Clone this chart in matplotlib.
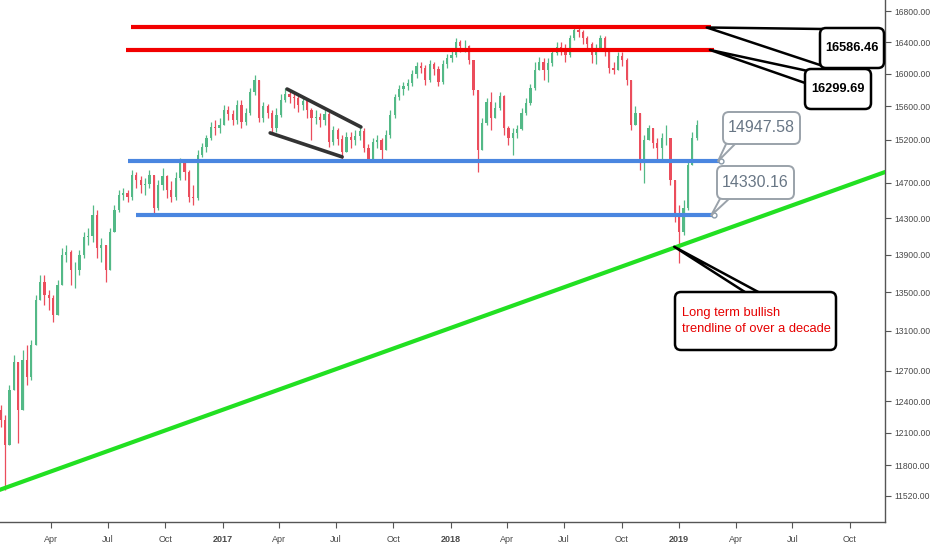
import numpy as np
import pandas as pd
import matplotlib
matplotlib.use("Agg")
import matplotlib.pyplot as plt
import matplotlib.dates as mdates
from matplotlib.patches import Polygon, FancyBboxPatch
from matplotlib.transforms import IdentityTransform
from matplotlib.ticker import NullLocator

FONT = ['Liberation Sans', 'DejaVu Sans']

# weekly candles (open = previous close)
start = '2016-01-12'
first_open = 12319
closes = [12224, 11988, 12512, 12788, 12319, 12808, 12639, 12957, 13419, 13608,
          13471, 13440, 13263, 13576, 13897, 13929, 13735, 13735, 13897, 14092,
          14103, 14336, 13973, 14005, 13735, 14147, 14392, 14561, 14584, 14538,
          14790, 14733, 14675, 14687, 14790, 14415, 14675, 14778, 14617, 14538,
          14755, 14940, 14823, 14538, 14527, 15021, 15114, 15220, 15351, 15339,
          15375, 15555, 15507, 15435, 15616, 15411, 15519, 15775, 15923, 15459,
          15604, 15519, 15339, 15495, 15677, 15750, 15714, 15701, 15616, 15665,
          15555, 15459, 15471, 15435, 15507, 15173, 15315, 15209, 15056, 15232,
          15197, 15244, 15303, 15102, 14975, 15173, 15197, 15079, 15256, 15495,
          15714, 15811, 15848, 15886, 15997, 16097, 16072, 15923, 16122, 16060,
          15898, 16122, 16197, 16235, 16400, 16350, 16350, 16172, 15799, 15079,
          15399, 15653, 15459, 15580, 15726, 15339, 15220, 15280, 15327, 15519,
          15640, 15824, 16047, 16147, 16047, 16135, 16260, 16337, 16324, 16235,
          16452, 16554, 16528, 16452, 16376, 16235, 16324, 16452, 16273, 16072,
          16047, 16222, 16172, 15923, 15375, 15519, 14963, 15197, 15339, 15161,
          15102, 15220, 15220, 14733, 14336, 14147, 14415, 14905, 15220, 15375]
highs = [12367, 12272, 12561, 12858, 12708, 12907, 12957, 13008, 13471, 13682,
         13682, 13524, 13471, 13629, 13973, 14005, 13951, 13821, 13951, 14147,
         14191, 14448, 14392, 14082, 14005, 14191, 14448, 14617, 14640, 14617,
         14846, 14823, 14778, 14755, 14846, 14790, 14733, 14869, 14790, 14721,
         14823, 14986, 14940, 14846, 14675, 15079, 15161, 15256, 15411, 15435,
         15459, 15616, 15604, 15555, 15677, 15677, 15580, 15824, 15985, 15898,
         15653, 15628, 15555, 15580, 15750, 15824, 15799, 15775, 15738, 15714,
         15677, 15580, 15555, 15519, 15580, 15531, 15363, 15339, 15256, 15292,
         15292, 15315, 15351, 15339, 15150, 15220, 15256, 15220, 15315, 15555,
         15750, 15861, 15898, 15935, 16047, 16147, 16147, 16110, 16172, 16147,
         16097, 16172, 16247, 16298, 16452, 16427, 16427, 16363, 16172, 15775,
         15459, 15701, 15775, 15653, 15775, 15738, 15363, 15339, 15375, 15580,
         15701, 15873, 16147, 16210, 16197, 16197, 16324, 16401, 16401, 16376,
         16490, 16593, 16606, 16554, 16478, 16401, 16376, 16490, 16478, 16298,
         16147, 16273, 16273, 16197, 15923, 15604, 15495, 15256, 15375, 15339,
         15220, 15280, 15375, 15197, 14733, 14448, 14505, 14963, 15292, 15435]
lows = [12157, 11576, 12035, 12610, 12007, 12464, 12561, 12610, 12957, 13419,
        13367, 13315, 13191, 13263, 13576, 13821, 13576, 13545, 13682, 13865,
        14005, 14038, 13865, 13821, 13608, 13757, 14147, 14370, 14505, 14482,
        14505, 14640, 14584, 14561, 14640, 14347, 14392, 14617, 14527, 14482,
        14505, 14733, 14733, 14482, 14448, 14505, 14998, 15056, 15197, 15256,
        15280, 15375, 15435, 15375, 15387, 15339, 15375, 15495, 15738, 15411,
        15411, 15459, 15280, 15292, 15471, 15653, 15640, 15580, 15531, 15555,
        15459, 15197, 15387, 15351, 15375, 15114, 15138, 15138, 14963, 15079,
        15102, 15138, 15197, 15056, 14940, 14963, 15102, 14963, 15079, 15220,
        15459, 15677, 15738, 15799, 15848, 15948, 16010, 15861, 15898, 15985,
        15848, 15873, 16072, 16147, 16210, 16273, 16273, 16122, 15738, 14823,
        15079, 15375, 15315, 15459, 15555, 15256, 15138, 15021, 15220, 15315,
        15495, 15616, 15799, 16047, 15923, 15898, 16097, 16235, 16235, 16147,
        16210, 16427, 16465, 16376, 16298, 16135, 16122, 16298, 16222, 16010,
        15997, 16047, 16097, 15861, 15315, 15375, 14846, 14698, 15197, 15102,
        14963, 14963, 15138, 14675, 14258, 13810, 14115, 14392, 14905, 15197]

# horizontal levels
level_vals = [16586.46, 16299.69, 14947.58, 14330.16]
level_from = ['2016-08-08', '2016-07-31', '2016-08-03', '2016-08-16']
level_to = ['2019-02-20', '2019-02-25', '2019-03-08', '2019-02-25']
level_colors = ['#f20000', '#f20000', '#4a86e0', '#4a86e0']

# trend line and wedge pattern
trend_dates = ['2016-01-11', '2019-11-26']
trend_vals = [11576, 14822]
trend_touch = ('2018-12-24', 13985)
wedge_upper = (['2017-04-14', '2017-08-10'], [15811, 15351])
wedge_lower = (['2017-03-18', '2017-07-11'], [15280, 14998])

ytick_vals = [16800, 16400, 16000, 15600, 15200, 14700, 14300, 13900, 13500,
              13100, 12700, 12400, 12100, 11800, 11520]
xtick_dates = ['2016-04-01', '2016-07-01', '2016-10-01', '2017-01-01', '2017-04-01',
               '2017-07-01', '2017-10-01', '2018-01-01', '2018-04-01', '2018-07-01',
               '2018-10-01', '2019-01-01', '2019-04-01', '2019-07-01', '2019-10-01']
xtick_labels = ['Apr', 'Jul', 'Oct', '2017', 'Apr', 'Jul', 'Oct', '2018', 'Apr',
                'Jul', 'Oct', '2019', 'Apr', 'Jul', 'Oct']

W, H = 932, 550
fig = plt.figure(figsize=(W / 100, H / 100), dpi=100)
ax = fig.add_axes([0, 28 / H, 885 / W, 522 / H])
ax.set_yscale('log')

dates = mdates.date2num(pd.date_range(start, periods=len(closes), freq='7D'))
closes = np.array(closes, dtype=float)
opens = np.concatenate([[first_open], closes[:-1]])
highs = np.maximum(np.array(highs, dtype=float), np.maximum(opens, closes))
lows = np.minimum(np.array(lows, dtype=float), np.minimum(opens, closes))
up = closes >= opens
cols = np.where(up, '#53b987', '#eb4d5c')

ax.vlines(dates, lows, highs, colors=cols, lw=0.9, zorder=2)
ax.bar(dates, np.maximum(np.abs(closes - opens), 3), bottom=np.minimum(opens, closes),
       width=3.6, color=cols, zorder=3)

for v, a, b, c in zip(level_vals, level_from, level_to, level_colors):
    ax.plot(mdates.datestr2num([a, b]), [v, v], color=c, lw=3, solid_capstyle='butt', zorder=4)
for i in (2, 3):
    ax.plot(mdates.datestr2num(level_to[i]), level_vals[i], 'o', ms=3.5, mfc='white',
            mec='#8a9aa8', mew=1, zorder=5)

ax.plot(mdates.datestr2num(trend_dates), trend_vals, color='#22e022', lw=3, zorder=4)
for d, v in (wedge_upper, wedge_lower):
    ax.plot(mdates.datestr2num(d), v, color='#333333', lw=2.6, solid_capstyle='round', zorder=4)

ax.set_xlim(mdates.datestr2num('2016-01-11'), mdates.datestr2num('2019-11-26'))
ax.set_ylim(11289, 16945)

ax.yaxis.tick_right()
ax.set_yticks(ytick_vals)
ax.set_yticklabels(['%.2f' % v for v in ytick_vals])
ax.yaxis.set_minor_locator(NullLocator())
ax.set_xticks(mdates.datestr2num(xtick_dates))
ax.set_xticklabels(xtick_labels)
for t in ax.get_xticklabels():
    t.set_family(FONT)
    if t.get_text().isdigit():
        t.set_fontweight('bold')
for t in ax.get_yticklabels():
    t.set_family(FONT)
ax.tick_params(axis='both', direction='out', length=4, width=0.8, color='#555555',
               labelcolor='#4a4a4a')
ax.tick_params(axis='y', pad=3, labelsize=6.2)
ax.tick_params(axis='x', pad=5, labelsize=6.5)
for s in ('left', 'top'):
    ax.spines[s].set_visible(False)
for s in ('right', 'bottom'):
    ax.spines[s].set_color('#555555')
    ax.spines[s].set_linewidth(1)


def to_disp(d, v):
    return ax.transData.transform((mdates.datestr2num(d), v))


def img(x, y):
    return (x, H - y)


def callout(tip, box, base, text, tcolor, ecolor, size, weight='normal', lw=1.8,
            ha='center', tx=None):
    x0, y0, x1, y1 = box
    tr = IdentityTransform()
    ax.add_patch(Polygon([tip, img(*base[0]), img(*base[1])], closed=True, fc='white',
                         ec=ecolor, lw=lw, transform=tr, clip_on=False, zorder=6,
                         joinstyle='round'))
    ax.add_patch(FancyBboxPatch((x0, H - y1), x1 - x0, y1 - y0,
                                boxstyle='round,pad=0,rounding_size=6', fc='white',
                                ec=ecolor, lw=lw, transform=tr, clip_on=False, zorder=7))
    if tx is None:
        tx = (x0 + x1) / 2
    ax.text(tx, H - (y0 + y1) / 2, text, transform=tr, ha=ha, va='center', color=tcolor,
            fontsize=size, fontweight=weight, family=FONT, zorder=8, linespacing=1.35)


tip = to_disp('2019-02-14', level_vals[0])
callout(tip, (820, 28, 884, 68), [(823, 29), (823, 66)], '16586.46', 'black', 'black', 9.2, 'bold')
tip = to_disp('2019-02-19', level_vals[1])
callout(tip, (805, 69, 871, 109), [(808, 71), (808, 84)], '16299.69', 'black', 'black', 9.2, 'bold')
tip = to_disp('2019-03-04', level_vals[2])
callout(tip, (723, 112, 800, 144), [(727, 142), (737, 142)], '14947.58', '#687685',
        '#9aa2aa', 11.5, lw=1.4)
tip = to_disp('2019-02-21', level_vals[3])
callout(tip, (717, 166, 794, 199), [(721, 197), (731, 197)], '14330.16', '#687685',
        '#9aa2aa', 11.5, lw=1.4)
tip = to_disp(*trend_touch)
callout(tip, (675, 292, 836, 350), [(748, 294), (762, 294)],
        'Long term bullish\ntrendline of over a decade', '#e60000', 'black', 9.3,
        ha='left', tx=682)

fig.savefig('out.png', dpi=100)
